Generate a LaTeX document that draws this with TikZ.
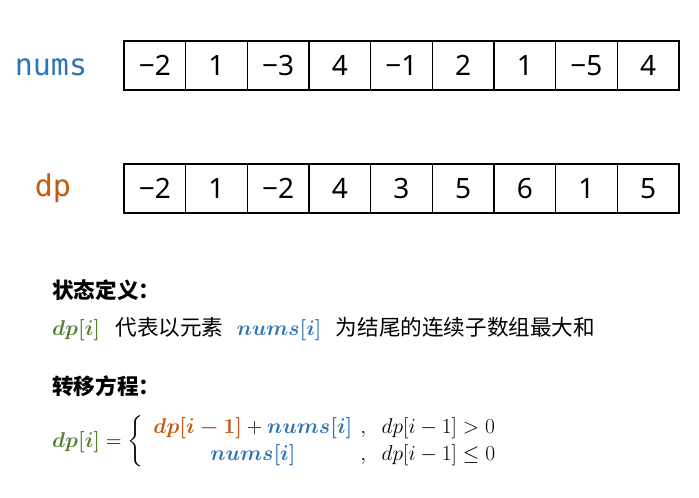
\RequirePackage{fix-cm}
\documentclass[tikz,border=0pt]{standalone}
\usepackage{amsmath,amssymb}
\usepackage{bm}
\usepackage[no-math]{fontspec}
\usetikzlibrary{positioning}
\newfontfamily\cjk{Noto Sans CJK SC}
\newfontfamily\cellfont{Noto Sans}
\newfontfamily\labelfont{DejaVu Sans Mono}
\definecolor{dpGreen}{HTML}{548235}
\definecolor{dpOrange}{HTML}{C55A11}
\definecolor{numsBlue}{HTML}{2E75B6}
\newcommand{\dpcur}{\textcolor{dpGreen}{$\bm{dp[i]}$}}
\newcommand{\numscur}{\textcolor{numsBlue}{$\bm{nums[i]}$}}
\delimiterfactor=800
\delimitershortfall=12pt
\tikzset{
    cell/.style={draw, line width=1.5pt, minimum width=61.67pt, minimum height=49pt, inner sep=0pt, outer sep=0pt, font=\cellfont\fontsize{28}{30}\selectfont},
    rowlabel/.style={inner sep=0pt, font=\labelfont\fontsize{30}{32}\selectfont},
    cntext/.style={inner sep=0pt, font=\cjk\fontsize{21.6}{27}\selectfont},
    cntitle/.style={inner sep=0pt, font=\cjk\bfseries\fontsize{21.6}{27}\selectfont},
    deftext/.style={inner sep=0pt, font=\fontsize{21.2}{27}\selectfont},
    eqtext/.style={inner sep=0pt, font=\fontsize{21.4}{27}\selectfont}
}

\begin{document}
\begin{tikzpicture}[x=1pt, y=-1pt]
    \useasboundingbox (0,0) rectangle (699,498);

    % Input array
    \node[rowlabel, text=numsBlue] (numslabel) at (51,67) {nums};
    \node[cell] (n1) at (154.8,65.5) {−2};
    \node[cell, right=0pt of n1] (n2) {1};
    \node[cell, right=0pt of n2] (n3) {−3};
    \node[cell, right=0pt of n3] (n4) {4};
    \node[cell, right=0pt of n4] (n5) {−1};
    \node[cell, right=0pt of n5] (n6) {2};
    \node[cell, right=0pt of n6] (n7) {1};
    \node[cell, right=0pt of n7] (n8) {−5};
    \node[cell, right=0pt of n8] (n9) {4};

    % DP array
    \node[rowlabel, text=dpOrange] (dplabel) at (53,188) {dp};
    \node[cell] (d1) at (154.8,188.5) {−2};
    \node[cell, right=0pt of d1] (d2) {1};
    \node[cell, right=0pt of d2] (d3) {−2};
    \node[cell, right=0pt of d3] (d4) {4};
    \node[cell, right=0pt of d4] (d5) {3};
    \node[cell, right=0pt of d5] (d6) {5};
    \node[cell, right=0pt of d6] (d7) {6};
    \node[cell, right=0pt of d7] (d8) {1};
    \node[cell, right=0pt of d8] (d9) {5};

    % State definition
    \node[cntitle, anchor=west] (deftitle) at (52,290) {状态定义：};
    \node[eqtext, anchor=base west] (defdp) at (52,335) {\dpcur};
    \node[cntext, base right=15pt of defdp] (defa) {代表以元素};
    \node[deftext, base right=13pt of defa] (defnums) {\numscur};
    \node[cntext, base right=14pt of defnums] (defb) {为结尾的连续子数组最大和};

    % Transition
    \node[cntitle, anchor=west] (eqtitle) at (52,386) {转移方程：};
    \node[eqtext, anchor=base west] (trans) at (52,447) {$\textcolor{dpGreen}{\bm{dp[i]}} = \left\{
        \begin{array}{@{\hspace{10pt}}c@{\hspace{8pt}}l}
        \textcolor{dpOrange}{\bm{dp[i-1]}} + \textcolor{numsBlue}{\bm{nums[i]}} & ,\hspace{12pt} dp[i-1] > 0\\
        \textcolor{numsBlue}{\bm{nums[i]}} & ,\hspace{12pt} dp[i-1] \leq 0
        \end{array}\right.$};
\end{tikzpicture}
\end{document}
